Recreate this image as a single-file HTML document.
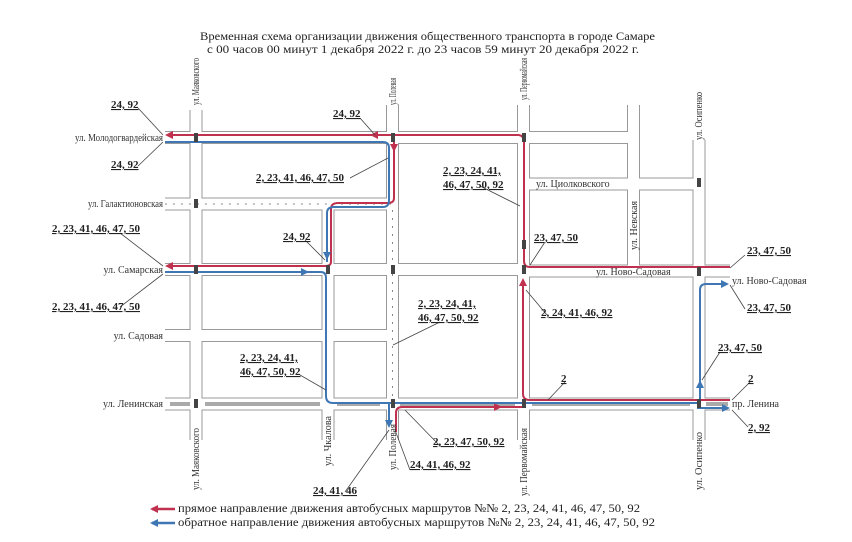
<!DOCTYPE html>
<html><head><meta charset="utf-8"><style>
html,body{margin:0;padding:0;background:#fff;}
svg{display:block;font-family:"Liberation Serif",serif;}
.l{font-size:11px;font-weight:bold;text-decoration:underline;fill:#222;}
.s{font-size:10px;fill:#333;}
</style></head><body>
<svg width="852" height="542" viewBox="0 0 852 542" xmlns="http://www.w3.org/2000/svg">
<defs>
<marker id="ar" markerWidth="8" markerHeight="8" refX="6" refY="4" orient="auto" markerUnits="userSpaceOnUse"><path d="M0,0 L8,4 L0,8 z" fill="#c0304f"/></marker>
<marker id="ab" markerWidth="8" markerHeight="8" refX="6" refY="4" orient="auto" markerUnits="userSpaceOnUse"><path d="M0,0 L8,4 L0,8 z" fill="#3f77b5"/></marker>
</defs>
<text x="200" y="40" font-size="11.5" fill="#222" textLength="455" lengthAdjust="spacingAndGlyphs">Временная схема организации движения общественного транспорта в городе Самаре</text>
<text x="207" y="53" font-size="11.5" fill="#222" textLength="432" lengthAdjust="spacingAndGlyphs">с 00 часов 00 минут 1 декабря 2022 г. до 23 часов 59 минут 20 декабря 2022 г.</text>
<g stroke="#999" stroke-width="13" fill="none" stroke-linecap="butt">
<path d="M165,137.5H634 M165,204H393 M524,184H699 M165,269.5H524 M524,271H730 M165,335.5H393 M165,404H730"/>
<path d="M196,110V440 M328,204V440 M392.5,105V440 M523.5,105V440 M633.5,105V271 M699,140V440"/>
</g>
<g stroke="#fff" stroke-width="11" fill="none">
<path d="M165,137.5H634 M165,204H393 M524,184H699 M165,269.5H524 M524,271H730 M165,335.5H393 M165,404H730"/>
<path d="M196,109V441 M328,204V441 M392.5,104V441 M523.5,104V441 M633.5,104V271 M699,139V441"/>
</g>
<g stroke="#888" stroke-width="1" fill="none" stroke-dasharray="2,6">
<path d="M165,204H392 M392.5,210V398"/>
</g>
<g stroke="#aaa" stroke-width="4" fill="none">
<path d="M170,404H190 M205,404H320 M337,404H380 M400,404H515 M532,404H690 M706,404H728"/>
</g>
<g stroke="#c0304f" stroke-width="2" fill="none">
<path d="M730,267H530Q524,267 524,261V143Q524,135 518,135H167" marker-end="url(#ar)"/>
<path d="M394,135V198Q394,203 388,203H338Q331,203 331,209V262Q331,266 325,266H167" marker-end="url(#ar)"/>
<path d="M730,400H530Q523,400 523,394V280" marker-end="url(#ar)"/>
<path d="M523,405V407H402Q396,407 396,413V432"/>
<path d="M460,407H500" marker-end="url(#ar)"/>
<path d="M394,140V150" marker-end="url(#ar)"/>
<path d="M470,135H372" marker-end="url(#ar)"/>
</g>
<g stroke="#3f77b5" stroke-width="2" fill="none">
<path d="M165,142H383Q389,142 389,148V200Q389,207 383,207H334Q327,207 327,213V262"/>
<path d="M327,240V258" marker-end="url(#ab)"/>
<path d="M165,272H321Q326,272 326,278V396Q326,403 333,403H697"/>
<path d="M290,272H307" marker-end="url(#ab)"/>
<path d="M389,403V426" marker-end="url(#ab)"/>
<path d="M697,408H728" marker-end="url(#ab)"/>
<path d="M700,408V290Q700,284 706,284H727" marker-end="url(#ab)"/>
<path d="M700,390V382" marker-end="url(#ab)"/>
</g>
<g fill="#444">
<rect x="194" y="133" width="4" height="9"/><rect x="391" y="133" width="4" height="9"/><rect x="522" y="133" width="4" height="9"/>
<rect x="194" y="199" width="4" height="9"/><rect x="522" y="240" width="4" height="9"/><rect x="697" y="178" width="4" height="9"/>
<rect x="194" y="265" width="4" height="9"/><rect x="326" y="265" width="4" height="9"/><rect x="391" y="265" width="4" height="9"/><rect x="522" y="265" width="4" height="9"/><rect x="697" y="267" width="4" height="9"/>
<rect x="194" y="399" width="4" height="9"/><rect x="391" y="399" width="4" height="9"/><rect x="522" y="399" width="4" height="9"/><rect x="697" y="399" width="4" height="9"/>
</g>
<g stroke="#444" stroke-width="0.8" fill="none">
<path d="M138,108L163,135 M138,166L163,142 M360,118L375,135 M350,178L388,158 M480,186L520,206 M120,233L163,266 M120,307L163,274 M305,240L325,260 M545,242L530,265 M745,255L730,268 M547,315L526,290 M745,309L730,285 M440,322L393,345 M300,375L326,390 M720,352L702,380 M565,382L548,400 M750,382L732,400 M748,427L732,410 M440,446L405,410 M410,470L395,430 M345,492L389,430"/>
</g>
<g class="l">
<text x="111" y="108">24, 92</text>
<text x="111" y="168">24, 92</text>
<text x="333" y="117">24, 92</text>
<text x="256" y="181">2, 23, 41, 46, 47, 50</text>
<text x="443" y="174">2, 23, 24, 41,</text>
<text x="443" y="188">46, 47, 50, 92</text>
<text x="52" y="232">2, 23, 41, 46, 47, 50</text>
<text x="283" y="240">24, 92</text>
<text x="534" y="241">23, 47, 50</text>
<text x="747" y="254">23, 47, 50</text>
<text x="52" y="310">2, 23, 41, 46, 47, 50</text>
<text x="541" y="316">2, 24, 41, 46, 92</text>
<text x="747" y="311">23, 47, 50</text>
<text x="418" y="307">2, 23, 24, 41,</text>
<text x="418" y="321">46, 47, 50, 92</text>
<text x="240" y="361">2, 23, 24, 41,</text>
<text x="240" y="375">46, 47, 50, 92</text>
<text x="718" y="351">23, 47, 50</text>
<text x="561" y="382">2</text>
<text x="748" y="382">2</text>
<text x="748" y="431">2, 92</text>
<text x="433" y="445">2, 23, 47, 50, 92</text>
<text x="410" y="468">24, 41, 46, 92</text>
<text x="313" y="494">24, 41, 46</text>
</g>
<g class="s">
<text x="75" y="141" textLength="88" lengthAdjust="spacingAndGlyphs">ул. Молодогвардейская</text>
<text x="88" y="207" textLength="75" lengthAdjust="spacingAndGlyphs">ул. Галактионовская</text>
<text x="163" y="273" text-anchor="end">ул. Самарская</text>
<text x="163" y="339" text-anchor="end">ул. Садовая</text>
<text x="163" y="407" text-anchor="end">ул. Ленинская</text>
<text x="536" y="187">ул. Циолковского</text>
<text x="596" y="275">ул. Ново-Садовая</text>
<text x="732" y="284">ул. Ново-Садовая</text>
<text x="732" y="407">пр. Ленина</text>
<text transform="translate(199,105) rotate(-90)" textLength="47" lengthAdjust="spacingAndGlyphs">ул. Маяковского</text>
<text transform="translate(396,105) rotate(-90)" textLength="27" lengthAdjust="spacingAndGlyphs">ул. Полевая</text>
<text transform="translate(527,100) rotate(-90)" textLength="42" lengthAdjust="spacingAndGlyphs">ул. Первомайская</text>
<text transform="translate(702,140) rotate(-90)" textLength="48" lengthAdjust="spacingAndGlyphs">ул. Осипенко</text>
<text transform="translate(637,250) rotate(-90)">ул. Невская</text>
<text transform="translate(199,490) rotate(-90)" textLength="62" lengthAdjust="spacingAndGlyphs">ул. Маяковского</text>
<text transform="translate(331,466) rotate(-90)" textLength="50" lengthAdjust="spacingAndGlyphs">ул. Чкалова</text>
<text transform="translate(396,470) rotate(-90)" textLength="46" lengthAdjust="spacingAndGlyphs">ул. Полевая</text>
<text transform="translate(527,496) rotate(-90)" textLength="68" lengthAdjust="spacingAndGlyphs">ул. Первомайская</text>
<text transform="translate(702,490) rotate(-90)" textLength="58" lengthAdjust="spacingAndGlyphs">ул. Осипенко</text>
</g>
<path d="M175,509H152" stroke="#c0304f" stroke-width="2.5" marker-end="url(#ar)"/>
<path d="M175,523H152" stroke="#3f77b5" stroke-width="2.5" marker-end="url(#ab)"/>
<text x="178" y="512" font-size="12" fill="#222" textLength="462" lengthAdjust="spacingAndGlyphs">прямое направление движения автобусных маршрутов №№ 2, 23, 24, 41, 46, 47, 50, 92</text>
<text x="178" y="526" font-size="12" fill="#222" textLength="477" lengthAdjust="spacingAndGlyphs">обратное направление движения автобусных маршрутов №№ 2, 23, 24, 41, 46, 47, 50, 92</text>
</svg>
</body></html>
